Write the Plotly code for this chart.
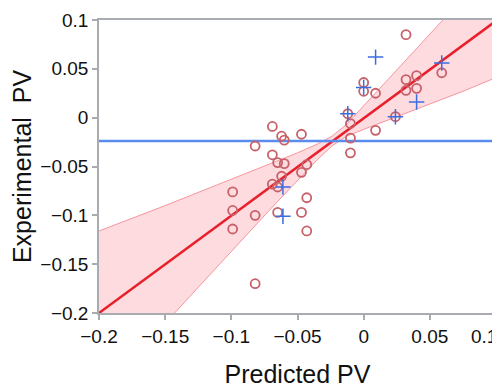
import plotly.graph_objects as go

# Experimental vs predicted (open circles)
circ_x = [0.032, 0.000, 0.000, 0.009, 0.032, 0.040, 0.032, 0.040, 0.059, 0.024,
          -0.012, -0.010, 0.009, -0.010, -0.010, -0.069, -0.062, -0.060, -0.047, -0.082,
          -0.069, -0.065, -0.060, -0.043, -0.062, -0.047, -0.069, -0.065, -0.099, -0.043,
          -0.099, -0.082, -0.065, -0.047, -0.099, -0.043, -0.082]
circ_y = [0.085, 0.036, 0.027, 0.025, 0.039, 0.043, 0.028, 0.030, 0.046, 0.001,
          0.004, -0.006, -0.013, -0.021, -0.036, -0.009, -0.019, -0.023, -0.017, -0.029,
          -0.038, -0.046, -0.047, -0.048, -0.060, -0.056, -0.068, -0.071, -0.076, -0.082,
          -0.095, -0.100, -0.097, -0.097, -0.114, -0.116, -0.170]

# Second group (plus markers)
plus_x = [0.009, 0.000, 0.059, 0.040, -0.012, 0.024, -0.061, -0.061]
plus_y = [0.062, 0.031, 0.056, 0.016, 0.004, 0.001, -0.071, -0.101]

# Fit line and confidence band
fit_x = [-0.2, 0.1]
fit_y = [-0.2, 0.099]
band_x = [-0.2, -0.15, -0.1, -0.07, -0.05, -0.035, -0.024, -0.013, 0.0, 0.025, 0.05, 0.075, 0.1]
band_up = [-0.116, -0.090, -0.063, -0.047, -0.036, -0.027, -0.019, -0.007, 0.012, 0.049, 0.086, 0.123, 0.159]
band_lo = [-0.284, -0.210, -0.137, -0.093, -0.064, -0.043, -0.029, -0.019, -0.012, 0.001, 0.014, 0.027, 0.041]

# Mean of experimental values
mean_x = [-0.2, 0.1]
mean_y = [-0.024, -0.024]

ticks = [-0.2, -0.15, -0.1, -0.05, 0, 0.05, 0.1]
y_tick_text = ["\u22120.2", "\u22120.15", "\u22120.1", "\u22120.05", "0", "0.05", "0.1"]
# last x label is drawn as a right-anchored annotation so it stays inside the page
x_tick_text = ["\u22120.2", "\u22120.15", "\u22120.1", "\u22120.05", "0", "0.05", ""]
x_last_label = "0.1"

fig = go.Figure()
fig.add_trace(go.Scatter(x=band_x, y=band_lo, mode="lines",
                         line=dict(color="rgba(245,140,150,0.9)", width=1), hoverinfo="skip"))
fig.add_trace(go.Scatter(x=band_x, y=band_up, mode="lines", fill="tonexty",
                         fillcolor="rgba(250,160,170,0.38)",
                         line=dict(color="rgba(245,140,150,0.9)", width=1), hoverinfo="skip"))
fig.add_trace(go.Scatter(x=fit_x, y=fit_y, mode="lines",
                         line=dict(color="#e8202c", width=2.5)))
fig.add_trace(go.Scatter(x=mean_x, y=mean_y, mode="lines",
                         line=dict(color="#5a8cf0", width=2.5)))
fig.add_trace(go.Scatter(x=circ_x, y=circ_y, mode="markers",
                         marker=dict(symbol="circle-open", size=9,
                                     line=dict(color="#c8606a", width=1.8), color="#c8606a")))
fig.add_trace(go.Scatter(x=plus_x, y=plus_y, mode="markers",
                         marker=dict(symbol="cross-thin-open", size=11,
                                     line=dict(color="#3a6ee0", width=1.5), color="#3a6ee0")))

tick_font = dict(family="Liberation Sans", size=19, color="#111")
axis_common = dict(range=[-0.2, 0.1], tickvals=ticks,
                   showgrid=False, zeroline=False, showline=True, mirror=True,
                   linecolor="#a8acb0", linewidth=1.5, ticks="outside", ticklen=5,
                   tickcolor="#a8acb0", tickwidth=1.5, automargin=False,
                   ticklabeloverflow="allow", tickfont=tick_font)

fig.add_annotation(x=ticks[-1], xref="x", y=0, yref="paper", text=x_last_label,
                   showarrow=False, xanchor="right", yanchor="middle",
                   xshift=2, yshift=-23, borderpad=0, font=tick_font)

# page body has an 8px default margin, so the figure is sized to fill the rest of the window
fig.update_layout(
    width=492, height=380,
    margin=dict(l=91, r=4, t=12, b=75, autoexpand=False),
    paper_bgcolor="white", plot_bgcolor="white",
    showlegend=False,
    xaxis=dict(**axis_common, ticktext=x_tick_text,
               title=dict(text="Predicted PV", standoff=23,
                          font=dict(family="Liberation Sans", size=25, color="#111"))),
    yaxis=dict(**axis_common, ticktext=y_tick_text,
               title=dict(text="Experimental  PV", standoff=10,
                          font=dict(family="Liberation Sans", size=25, color="#111"))),
)

fig.write_html("out.html")
